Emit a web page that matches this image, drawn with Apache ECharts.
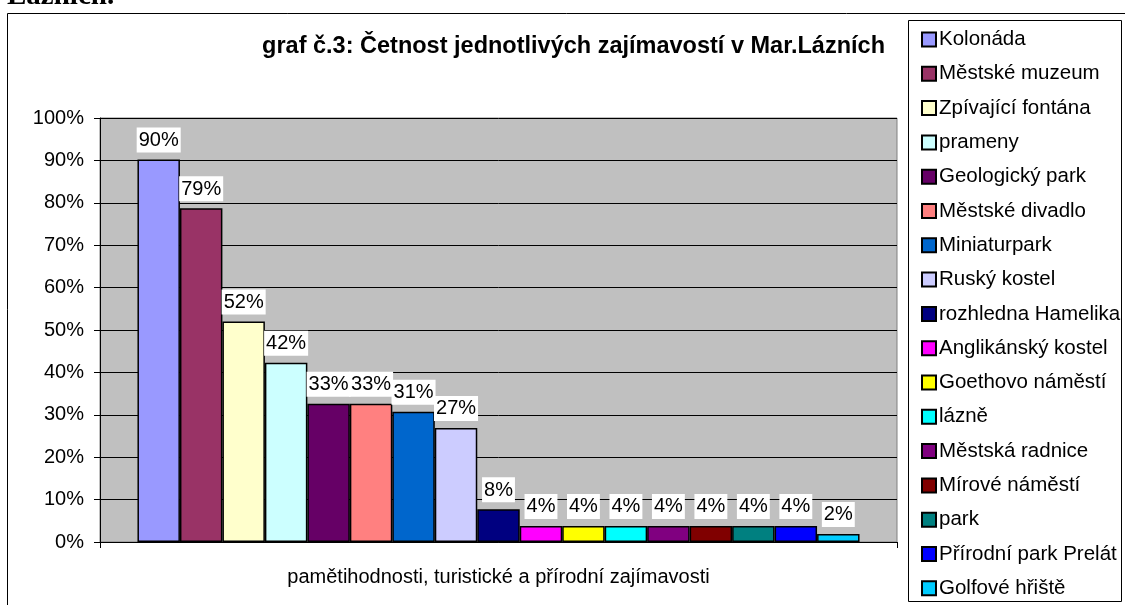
<!DOCTYPE html>
<html>
<head>
<meta charset="utf-8">
<script src="https://cdn.jsdelivr.net/npm/echarts@6/dist/echarts.min.js"></script>
<style>
  html, body { margin: 0; padding: 0; background: #fff; }
  #chart { width: 1125px; height: 605px; }
</style>
</head>
<body>
<div id="chart"></div>
<script>
    var chart = echarts.init(document.getElementById('chart'));

    var category = ['pamětihodnosti, turistické a přírodní zajímavosti'];
    var names = ['Kolonáda', 'Městské muzeum', 'Zpívající fontána', 'prameny', 'Geologický park',
        'Městské divadlo', 'Miniaturpark', 'Ruský kostel', 'rozhledna Hamelika', 'Anglikánský kostel',
        'Goethovo náměstí', 'lázně', 'Městská radnice', 'Mírové náměstí', 'park',
        'Přírodní park Prelát', 'Golfové hřiště'];
    var values = [90.2, 78.7, 52.0, 42.3, 32.6, 32.6, 30.7, 26.9, 7.7, 3.8, 3.8, 3.8, 3.8, 3.8, 3.8, 3.8, 1.9];
    var colors = ['#9999FF', '#993366', '#FFFFCC', '#CCFFFF', '#660066', '#FF8080', '#0066CC', '#CCCCFF',
        '#000080', '#FF00FF', '#FFFF00', '#00FFFF', '#800080', '#800000', '#008080', '#0000FF', '#00CCFF'];
    var yTicks = [0, 10, 20, 30, 40, 50, 60, 70, 80, 90, 100];

    var font = 'Liberation Sans';

    var series = names.map(function (n, i) {
        return {
            name: n,
            type: 'bar',
            data: [values[i]],
            barGap: '0%',
            barCategoryGap: '9.4%',
            itemStyle: { color: colors[i], borderColor: '#000', borderWidth: 1.5 },
            label: {
                show: true,
                position: 'top',
                distance: 7,
                formatter: function (p) { return Math.round(p.value) + '%'; },
                color: '#000',
                fontFamily: font,
                fontSize: 20,
                backgroundColor: '#fff',
                padding: [3, 2, 2, 2]
            }
        };
    });

    var option = {
        animation: false,
        textStyle: { fontFamily: font },
        graphic: [
            {
                type: 'text', left: 7, top: -18,
                style: { text: 'Lázních.', font: 'bold 29px "Liberation Serif"', fill: '#000' }
            },
            {
                type: 'rect', shape: { x: 7.5, y: 13.5, width: 1130, height: 600 },
                style: { fill: 'none', stroke: '#000', lineWidth: 1 }, z: -1
            },
            {
                type: 'rect', shape: { x: 908.5, y: 20.5, width: 213, height: 581 },
                style: { fill: '#fff', stroke: '#000', lineWidth: 1 }, z: -1
            },
            {
                type: 'text', x: 885, y: 47,
                style: {
                    text: 'graf č.3: Četnost jednotlivých zajímavostí v Mar.Lázních',
                    font: 'bold 23.5px "Liberation Sans"', fill: '#000',
                    align: 'right', verticalAlign: 'middle'
                }
            }
        ],
        legend: {
            orient: 'vertical',
            left: 921,
            top: 29,
            padding: 0,
            itemWidth: 14,
            itemHeight: 14,
            itemGap: 13.3,
            icon: 'rect',
            textStyle: { fontFamily: font, fontSize: 20.5, color: '#000', padding: [0, 0, 0, -2] },
            data: names
        },
        grid: {
            left: 100,
            right: 228,
            top: 118,
            bottom: 63,
            show: true,
            backgroundColor: '#C0C0C0',
            borderColor: '#808080',
            borderWidth: 1
        },
        xAxis: {
            type: 'category',
            data: category,
            axisLine: { lineStyle: { color: '#000' } },
            axisTick: { show: true, length: 6, lineStyle: { color: '#000' } },
            axisLabel: { color: '#000', fontFamily: font, fontSize: 20, margin: 25 }
        },
        yAxis: {
            type: 'value',
            min: yTicks[0],
            max: yTicks[yTicks.length - 1],
            interval: 10,
            axisLine: { show: true, lineStyle: { color: '#000' } },
            axisTick: { show: true, length: 6, lineStyle: { color: '#000' } },
            axisLabel: { color: '#000', fontFamily: font, fontSize: 20, margin: 16, formatter: '{value}%' },
            splitLine: { lineStyle: { color: '#000', width: 1 } }
        },
        series: series
    };

    chart.setOption(option);
</script>
</body>
</html>
